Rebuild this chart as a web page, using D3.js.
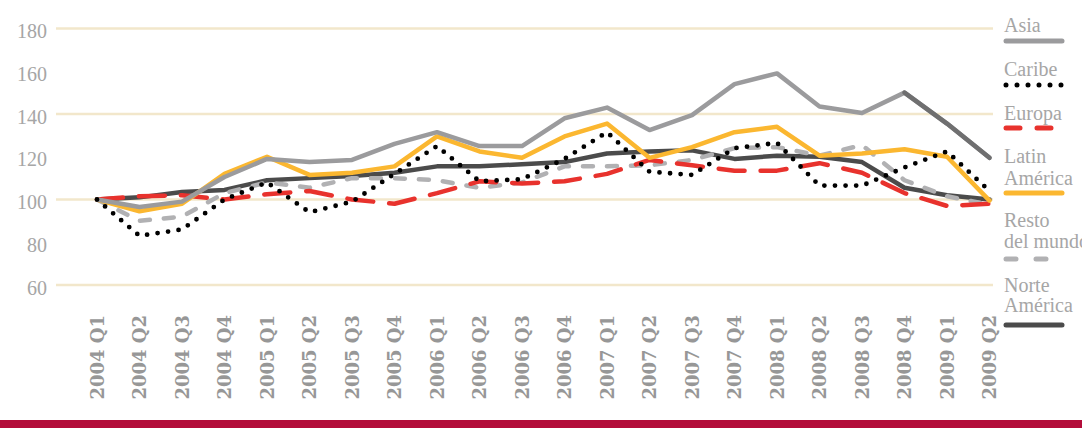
<!DOCTYPE html>
<html>
<head>
<meta charset="utf-8">
<script src="https://cdn.jsdelivr.net/npm/d3@7"></script>
<style>
	html, body { margin: 0; padding: 0; background: #fff; }
	svg { display: block; }
</style>
</head>
<body>
<div id="chart"></div>
<script>

const quarters = ['2004 Q1', '2004 Q2', '2004 Q3', '2004 Q4',
	'2005 Q1', '2005 Q2', '2005 Q3', '2005 Q4',
	'2006 Q1', '2006 Q2', '2006 Q3', '2006 Q4',
	'2007 Q1', '2007 Q2', '2007 Q3', '2007 Q4',
	'2008 Q1', '2008 Q2', '2008 Q3', '2008 Q4',
	'2009 Q1', '2009 Q2'];

const asia   = [100, 96.5, 99, 110.5, 119, 117.5, 118.5, 126, 131.5, 125, 125, 138, 143, 132.5, 139.5, 154, 159, 143.5, 140.5, 150, 135.5, 119.5];
const caribe = [100, 83, 86, 100, 108, 94, 99, 112, 125, 108.5, 109.5, 119, 131.5, 113, 111.5, 124, 126.5, 106.5, 106.5, 115, 122.5, 104];
const europa = [100, 101.5, 102, 100, 102.5, 104, 100, 98, 103, 108.5, 107.5, 108.5, 112, 118.5, 116, 113.5, 113.5, 117, 112.5, 103, 97, 98];
const latin  = [100, 94.5, 98, 112, 120, 111.5, 112.5, 115.5, 129.5, 122.5, 119.5, 129.5, 135.5, 119.5, 124.5, 131.5, 134, 120.5, 121.5, 123.5, 120, 99.5];
const resto  = [100, 90, 92, 103, 108, 105.5, 110, 110, 109, 105.5, 108, 115.5, 115.5, 116, 118.5, 124, 124.5, 120.5, 125.5, 109, 101.5, 97.5];
const norte  = [100, 101, 103.5, 104.5, 109, 110, 111, 112.5, 115.5, 115.5, 116.5, 117.5, 121.5, 122.5, 123, 119, 120.5, 120, 117.5, 105.5, 102, 100];

const yTicks = [60, 80, 100, 120, 140, 160, 180];
const gridValues = [60, 100, 140, 180];

const seriesNames = ['Asia', 'Caribe', 'Europa', 'Latin América', 'Resto del mundo', 'Norte América'];
const legendLines = [['Asia'], ['Caribe'], ['Europa'], ['Latin', 'América'], ['Resto', 'del mundo'], ['Norte', 'América']];

let width = 1082,
		height = 428,
		gridColor = '#f2e7cb',
		textGrey = '#a6a6a6',
		labelGrey = '#979797',
		barRed = '#b30d3a';

// line looks, chart and legend
let styles = {
	'Asia':            {color: '#9b9b9d', width: 4.5, dash: null, legendDash: null},
	'Caribe':          {color: '#000000', width: 4.8, dash: '0 10.6', legendDash: '0 11'},
	'Europa':          {color: '#e8322d', width: 4.5, dash: '26 16', legendDash: '14 17'},
	'Latin América':   {color: '#fbb730', width: 4.5, dash: null, legendDash: null},
	'Resto del mundo': {color: '#b1b1b3', width: 4.5, dash: '10 14', legendDash: '10 20'},
	'Norte América':   {color: '#4b4b4b', width: 4.5, dash: null, legendDash: null}
};

let values = {
	'Asia': asia,
	'Caribe': caribe,
	'Europa': europa,
	'Latin América': latin,
	'Resto del mundo': resto,
	'Norte América': norte
};

// bottom to top
let drawOrder = ['Norte América', 'Resto del mundo', 'Europa', 'Latin América', 'Asia', 'Caribe'];

let svg = d3.select('#chart').append('svg')
		.attr('width', width)
		.attr('height', height);

let x = d3.scalePoint()
		.domain(quarters)
		.range([97, 989.5]);

let y = d3.scaleLinear()
		.domain([60, 180])
		.range([285, 28.5]);

// grid
svg.append('g')
		.selectAll('line')
		.data(gridValues)
		.enter()
		.append('line')
		.attr('x1', 56)
		.attr('x2', 993)
		.attr('y1', d => y(d))
		.attr('y2', d => y(d))
		.attr('stroke', gridColor)
		.attr('stroke-width', 2.5);

// y axis labels
let yAxis = d3.axisLeft(y).tickValues(yTicks).tickSize(0).tickPadding(0);
let yG = svg.append('g')
		.attr('transform', 'translate(47,0)')
		.call(yAxis);
yG.select('.domain').remove();
yG.selectAll('text')
		.attr('fill', textGrey)
		.attr('dy', '0.45em')
		.style('font-family', '"Liberation Serif", serif')
		.style('font-size', '20px');

// x axis labels, vertical
let xAxis = d3.axisBottom(x).tickSize(0).tickPadding(0);
let xG = svg.append('g')
		.attr('transform', 'translate(0,315)')
		.call(xAxis);
xG.select('.domain').remove();
xG.selectAll('text')
		.attr('transform', 'rotate(-90)')
		.attr('x', 0)
		.attr('y', 0)
		.attr('dy', '0.36em')
		.attr('text-anchor', 'end')
		.attr('fill', labelGrey)
		.style('font-family', '"DejaVu Serif", serif')
		.style('font-weight', 'bold')
		.style('font-size', '18px');

let line = d3.line()
		.x((d, i) => x(quarters[i]))
		.y(d => y(d));

let lines = svg.append('g')
		.attr('fill', 'none')
		.attr('stroke-linecap', 'round')
		.attr('stroke-linejoin', 'round');

drawOrder.forEach(name => {
	let s = styles[name];
	lines.append('path')
			.attr('d', line(values[name]))
			.attr('stroke', s.color)
			.attr('stroke-width', s.width)
			.attr('stroke-dasharray', s.dash);
});

// darker tail on Asia from 2008 Q4
let tailStart = quarters.indexOf('2008 Q4');
let tailLine = d3.line()
		.x((d, i) => x(quarters[i + tailStart]))
		.y(d => y(d));
lines.append('path')
		.attr('d', tailLine(asia.slice(tailStart)))
		.attr('stroke', '#6f6f70')
		.attr('stroke-width', 4.5);

// legend
let legendX = 1004;
let legendPos = [
	{text: [32], line: 41},
	{text: [76], line: 85},
	{text: [120], line: 128},
	{text: [163, 185], line: 193},
	{text: [227, 248], line: 259},
	{text: [292, 312], line: 325}
];

let legend = svg.append('g');

seriesNames.forEach((name, k) => {
	let s = styles[name];
	let pos = legendPos[k];
	let g = legend.append('g');

	g.selectAll('text')
			.data(legendLines[k])
			.enter()
			.append('text')
			.attr('x', legendX)
			.attr('y', (d, i) => pos.text[i])
			.attr('fill', textGrey)
			.style('font-family', '"Liberation Serif", serif')
			.style('font-size', '20px')
			.text(d => d);

	g.append('line')
			.attr('x1', legendX + 2)
			.attr('x2', legendX + 58)
			.attr('y1', pos.line)
			.attr('y2', pos.line)
			.attr('stroke', s.color)
			.attr('stroke-width', 5)
			.attr('stroke-linecap', 'round')
			.attr('stroke-dasharray', s.legendDash);
});

// red band at bottom
svg.append('rect')
		.attr('x', 0)
		.attr('y', 420)
		.attr('width', width)
		.attr('height', height - 420)
		.attr('fill', barRed);

</script>
</body>
</html>
